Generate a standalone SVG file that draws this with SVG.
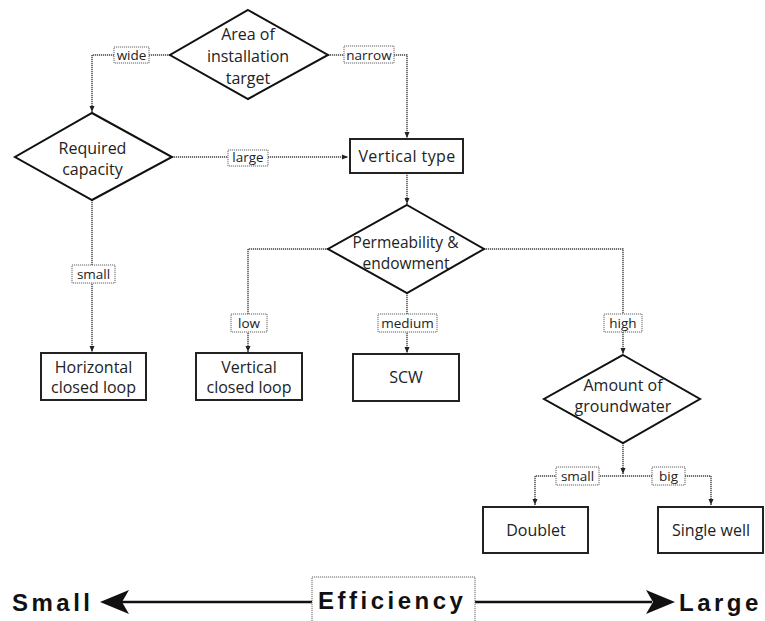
<svg xmlns="http://www.w3.org/2000/svg" width="765" height="621" viewBox="0 0 765 621">
<defs>
<style>
.dia{fill:#fff;stroke:#111;stroke-width:2}
.box{fill:#fff;stroke:#222;stroke-width:2}
.t{font-family:"Open Sans","Noto Sans","DejaVu Sans",sans-serif;font-size:16px;fill:#222;text-anchor:middle}
.conn{fill:none;stroke:#444;stroke-width:1.4;stroke-dasharray:1.2 0.8}
.lb{fill:#fff;stroke:#666;stroke-width:1;stroke-dasharray:1.2 0.8}
.lt{font-family:"Open Sans","Noto Sans","DejaVu Sans",sans-serif;font-size:13.5px;fill:#222;text-anchor:middle}
.big{font-family:"Liberation Sans",Arial,sans-serif;font-weight:bold;font-size:24px;letter-spacing:3.5px;fill:#111}
</style>
<marker id="ah" viewBox="0 0 6 6" refX="6" refY="3" markerWidth="6" markerHeight="6" markerUnits="userSpaceOnUse" orient="auto">
<path d="M0,0.5 L6,3 L0,5.5 z" fill="#222"/>
</marker>
</defs>

<g id="connectors">
<path class="conn" d="M170,55 H92 V112" marker-end="url(#ah)"/>
<path class="conn" d="M328,55 H407 V138" marker-end="url(#ah)"/>
<path class="conn" d="M172,157 H348" marker-end="url(#ah)"/>
<path class="conn" d="M407,173 V204" marker-end="url(#ah)"/>
<path class="conn" d="M92,200 V352" marker-end="url(#ah)"/>
<path class="conn" d="M328,249 H248 V352" marker-end="url(#ah)"/>
<path class="conn" d="M407,293 V353" marker-end="url(#ah)"/>
<path class="conn" d="M484,249 H623 V354" marker-end="url(#ah)"/>
<path class="conn" d="M623,443 V474" marker-end="url(#ah)"/>
<path class="conn" d="M623,476 H535 V505" marker-end="url(#ah)"/>
<path class="conn" d="M623,476 H711 V505" marker-end="url(#ah)"/>

<rect class="lb" x="114" y="47" width="35" height="16"/>
<text class="lt" x="131.5" y="59.5">wide</text>
<rect class="lb" x="344" y="46" width="50" height="17"/>
<text class="lt" x="369" y="59.5">narrow</text>
<rect class="lb" x="228" y="150" width="40" height="16"/>
<text class="lt" x="248" y="162">large</text>
<rect class="lb" x="72" y="265" width="43" height="18"/>
<text class="lt" x="93.5" y="278.5">small</text>
<rect class="lb" x="231" y="314" width="36" height="18"/>
<text class="lt" x="249" y="327.5">low</text>
<rect class="lb" x="378" y="314" width="59" height="18"/>
<text class="lt" x="407.5" y="327.5">medium</text>
<rect class="lb" x="604" y="314" width="38" height="18"/>
<text class="lt" x="623" y="327.5">high</text>
<rect class="lb" x="556" y="467" width="43" height="18"/>
<text class="lt" x="577.5" y="480.5">small</text>
<rect class="lb" x="652" y="467" width="33" height="18"/>
<text class="lt" x="668.5" y="480.5">big</text>
</g>

<g id="area">
<polygon class="dia" points="248,10 328,55 248,99 170,55"/>
<text class="t" x="248" y="40">Area of</text>
<text class="t" x="248" y="62">installation</text>
<text class="t" x="248" y="84">target</text>
</g>

<g id="capacity">
<polygon class="dia" points="92,113 172,157 92,200 15,157"/>
<text class="t" x="92.5" y="154">Required</text>
<text class="t" x="92.5" y="175">capacity</text>
</g>

<g id="vertical-type">
<rect class="box" x="350" y="139" width="113" height="34"/>
<text class="t" x="407" y="162" letter-spacing="0.4">Vertical type</text>
</g>

<g id="permeability">
<polygon class="dia" points="407,205 484,249 407,293 328,249"/>
<text class="t" x="405.5" y="248" style="font-size:15.5px">Permeability &amp;</text>
<text class="t" x="406" y="269" style="font-size:15.5px">endowment</text>
</g>

<g id="horizontal-loop">
<rect class="box" x="41" y="353" width="105" height="47"/>
<text class="t" x="93.5" y="373">Horizontal</text>
<text class="t" x="93.5" y="393">closed loop</text>
</g>

<g id="vertical-loop">
<rect class="box" x="196" y="353" width="106" height="47"/>
<text class="t" x="249" y="373">Vertical</text>
<text class="t" x="249" y="393">closed loop</text>
</g>

<g id="scw">
<rect class="box" x="353" y="354" width="106" height="47"/>
<text class="t" x="406" y="383">SCW</text>
</g>

<g id="groundwater">
<polygon class="dia" points="623,355 700,399 623,443 544,399"/>
<text class="t" x="623" y="391">Amount of</text>
<text class="t" x="623" y="412">groundwater</text>
</g>

<g id="doublet">
<rect class="box" x="483" y="507" width="105" height="46"/>
<text class="t" x="536" y="536">Doublet</text>
</g>

<g id="single-well">
<rect class="box" x="658" y="507" width="105" height="46"/>
<text class="t" x="711" y="536">Single well</text>
</g>

<g id="efficiency-scale">
<line x1="122" y1="602" x2="312" y2="602" stroke="#111" stroke-width="2.5"/>
<polygon points="100,602 129,590 122,602 129,614" fill="#111"/>
<line x1="475" y1="602" x2="652" y2="602" stroke="#111" stroke-width="2.5"/>
<polygon points="675,602 646,590 653,602 646,614" fill="#111"/>
<rect x="312" y="577" width="163" height="60" fill="#fff" stroke="#666" stroke-width="1" stroke-dasharray="1.2 0.8"/>
<text class="big" x="12" y="611">Small</text>
<text class="big" x="318" y="609">Efficiency</text>
<text class="big" x="679" y="611">Large</text>
</g>
</svg>
